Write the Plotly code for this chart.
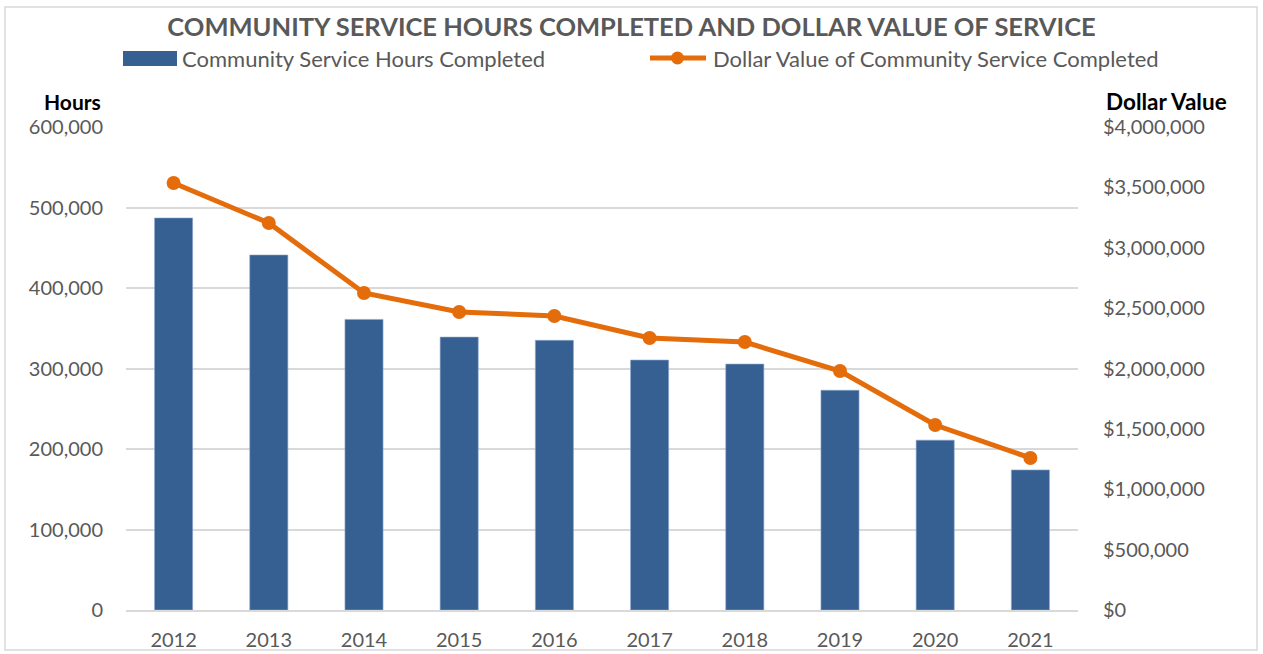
import plotly.graph_objects as go

years = ["2012", "2013", "2014", "2015", "2016", "2017", "2018", "2019", "2020", "2021"]
hours = [487000, 441000, 361000, 339000, 335000, 310500, 305500, 273000, 211000, 174000]
dollars = [3536000, 3205000, 2625000, 2468000, 2435000, 2253000, 2219000, 1979000, 1532000, 1259000]

left_ticks = [0, 100000, 200000, 300000, 400000, 500000, 600000]
right_ticks = [0, 500000, 1000000, 1500000, 2000000, 2500000, 3000000, 3500000, 4000000]

bar_name = "Community Service Hours Completed"
line_name = "Dollar Value of Community Service Completed"

FONT = "Lato"
GRAY = "#595959"
BLUE = "#376092"
ORANGE = "#E46C0A"

# plot area in pixels
L, R, T, B = 126, 1078, 127, 610
W, H = R - L, B - T


def px(x):
    return (x - L) / W


def py(y):
    return (B - y) / H


fig = go.Figure()
fig.add_trace(go.Bar(
    x=years, y=hours, name=bar_name,
    marker=dict(color=BLUE, line=dict(color="#8aa6cc", width=0.6)),
    width=0.4, showlegend=False,
))
fig.add_trace(go.Scatter(
    x=years, y=dollars, name=line_name,
    yaxis="y2", mode="lines+markers",
    line=dict(color=ORANGE, width=5),
    marker=dict(color=ORANGE, size=14),
    showlegend=False,
))

fig.update_layout(
    width=1263, height=654,
    margin=dict(l=L, r=1263 - R, t=T, b=654 - B, autoexpand=False),
    plot_bgcolor="white", paper_bgcolor="white",
    font=dict(family=FONT, color=GRAY, size=20),
    title=dict(text="<b>COMMUNITY SERVICE HOURS COMPLETED AND DOLLAR VALUE OF SERVICE</b>",
               x=0.5, xanchor="center", y=1 - 27 / 654, yanchor="middle",
               font=dict(family=FONT, size=25.5, color=GRAY)),
    xaxis=dict(type="category", range=[-0.5, len(years) - 0.5], autorange=False,
               showgrid=False, showline=True, linecolor="#d9d9d9", linewidth=1.5,
               ticks="", tickfont=dict(size=20, color=GRAY), ticklabelstandoff=11),
    yaxis=dict(range=[0, 600000], tickvals=left_ticks, tickformat=",",
               showgrid=True, gridcolor="#d9d9d9", gridwidth=1.5, zeroline=False,
               ticks="", tickfont=dict(size=20, color=GRAY), ticklabelstandoff=22),
    yaxis2=dict(range=[0, 4000000], tickvals=right_ticks, tickformat="$,",
                overlaying="y", side="right", showgrid=False, zeroline=False,
                ticks="", tickfont=dict(size=20, color=GRAY), ticklabelstandoff=24),
    annotations=[
        dict(text="<b>Hours</b>", xref="paper", yref="paper", x=px(103), y=py(101),
             xanchor="right", yanchor="middle", showarrow=False,
             font=dict(family=FONT, size=21, color="black")),
        dict(text="<b>Dollar Value</b>", xref="paper", yref="paper", x=px(1104), y=py(101),
             xanchor="left", yanchor="middle", showarrow=False,
             font=dict(family=FONT, size=22.5, color="black")),
        dict(text=bar_name, xref="paper", yref="paper", x=px(180), y=py(58),
             xanchor="left", yanchor="middle", showarrow=False,
             font=dict(family=FONT, size=22, color=GRAY)),
        dict(text=line_name, xref="paper", yref="paper", x=px(711), y=py(58),
             xanchor="left", yanchor="middle", showarrow=False,
             font=dict(family=FONT, size=22, color=GRAY)),
    ],
    shapes=[
        dict(type="rect", xref="paper", yref="paper",
             x0=px(5), x1=px(1257), y0=py(650), y1=py(7),
             line=dict(color="#d9d9d9", width=1.5), fillcolor="rgba(0,0,0,0)", layer="below"),
        # legend swatches
        dict(type="rect", xref="paper", yref="paper",
             x0=px(123), x1=px(177), y0=py(66), y1=py(51),
             line=dict(width=0), fillcolor=BLUE),
        dict(type="line", xref="paper", yref="paper",
             x0=px(650), x1=px(706), y0=py(58), y1=py(58),
             line=dict(color=ORANGE, width=5)),
        dict(type="circle", xref="paper", yref="paper",
             x0=px(671), x1=px(684), y0=py(64.5), y1=py(51.5),
             line=dict(width=0), fillcolor=ORANGE),
    ],
)

fig.write_html("out.html", config={"displayModeBar": False},
               post_script="document.body.style.margin='0px';")
